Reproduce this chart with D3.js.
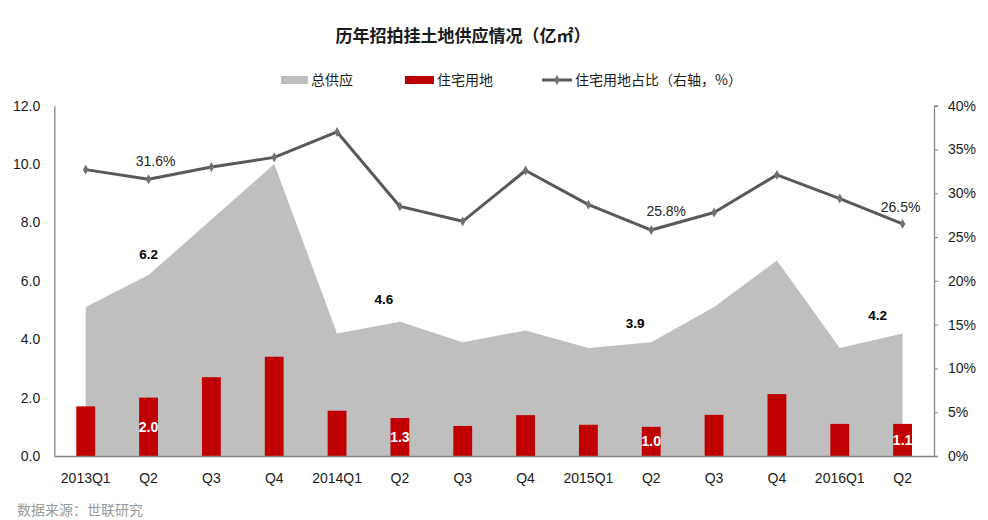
<!DOCTYPE html>
<html><head><meta charset="utf-8">
<script src="https://cdn.jsdelivr.net/npm/d3@7"></script>
<style>
html,body{margin:0;padding:0;background:#fff;}
svg{display:block;}
</style>
</head><body>
<svg id="chart" width="988" height="520"></svg>
<script>
// ---- data ----
const categories = ["2013Q1","2013Q2","2013Q3","2013Q4","2014Q1","2014Q2","2014Q3","2014Q4","2015Q1","2015Q2","2015Q3","2015Q4","2016Q1","2016Q2"];
const tickLabels = ["2013Q1","Q2","Q3","Q4","2014Q1","Q2","Q3","Q4","2015Q1","Q2","Q3","Q4","2016Q1","Q2"];
const totalSupply = [5.1, 6.2, 8.1, 10.0, 4.2, 4.6, 3.9, 4.3, 3.7, 3.9, 5.1, 6.7, 3.7, 4.2];
const residential = [1.7, 2.0, 2.7, 3.4, 1.55, 1.3, 1.03, 1.4, 1.07, 1.0, 1.41, 2.12, 1.1, 1.1];
const ratio = [32.7, 31.6, 33.0, 34.1, 37.0, 28.5, 26.8, 32.6, 28.7, 25.8, 27.8, 32.1, 29.4, 26.5];
const leftTicks = [0, 2, 4, 6, 8, 10, 12];
const rightTicks = [0, 5, 10, 15, 20, 25, 30, 35, 40];
const labeledIdx = [1, 5, 9, 13];
const pctLabeledIdx = [1, 9, 13];
const title = "历年招拍挂土地供应情况（亿㎡）";
const legendNames = ["总供应", "住宅用地", "住宅用地占比（右轴，%）"];
const source = "数据来源：世联研究";

// ---- layout ----
const svg = d3.select("#chart");
const plotL = 54.3, plotR = 934, plotT = 105.7, plotB = 456;
const cjk = "'Noto Sans CJK SC','Noto Sans',sans-serif";
const num = "'Liberation Sans',Arial,sans-serif";
const gray = "#bfbfbf", red = "#c00000", lineCol = "#595959", axisCol = "#868686";

const x = d3.scaleBand().domain(categories).range([plotL, plotR]).padding(0);
const cx = d => x(d) + x.bandwidth() / 2;
const yL = d3.scaleLinear().domain([0, 12]).range([plotB, plotT]);
const yR = d3.scaleLinear().domain([0, 40]).range([plotB, plotT]);

// area
const area = d3.area().x((d, i) => cx(categories[i])).y0(plotB).y1(d => yL(d));
svg.append("path").datum(totalSupply).attr("d", area).attr("fill", gray);

// bars
const bw = x.bandwidth() * 0.3;
svg.append("g").selectAll("rect").data(residential).join("rect")
  .attr("x", (d, i) => cx(categories[i]) - bw / 2)
  .attr("width", bw)
  .attr("y", d => yL(d))
  .attr("height", d => plotB - yL(d))
  .attr("fill", red);

// line
const line = d3.line().x((d, i) => cx(categories[i])).y(d => yR(d));
svg.append("path").datum(ratio).attr("d", line)
  .attr("fill", "none").attr("stroke", lineCol).attr("stroke-width", 3).attr("stroke-linejoin", "round");
const diamond = d3.symbol().type(d3.symbolDiamond).size(28);
svg.append("g").selectAll("path").data(ratio).join("path")
  .attr("d", diamond)
  .attr("transform", (d, i) => `translate(${cx(categories[i])},${yR(d)})`)
  .attr("fill", "#707070");

// axes
const axL = svg.append("g").attr("transform", `translate(${plotL},0)`)
  .call(d3.axisLeft(yL).tickValues(leftTicks).tickSize(0).tickPadding(14).tickFormat(d3.format(".1f")));
const axR = svg.append("g").attr("transform", `translate(${plotR},0)`)
  .call(d3.axisRight(yR).tickValues(rightTicks).tickSize(4).tickPadding(10).tickFormat(d => d + "%"));
const axB = svg.append("g").attr("transform", `translate(0,${plotB})`)
  .call(d3.axisBottom(x).tickSize(0).tickPadding(17).tickFormat((d, i) => tickLabels[i]));
[axL, axR, axB].forEach(g => {
  g.select(".domain").attr("stroke", axisCol).attr("stroke-width", 1.3);
  g.selectAll(".tick line").attr("stroke", axisCol);
  g.selectAll("text").attr("font-family", num).attr("font-size", 14).attr("fill", "#1a1a1a");
});

// data labels: total supply
const totalOffsets = {1: [0, -16], 5: [-16, -18], 9: [-16, -14], 13: [-25, -13]};
svg.append("g").selectAll("text").data(labeledIdx).join("text")
  .attr("x", i => cx(categories[i]) + totalOffsets[i][0])
  .attr("y", i => yL(totalSupply[i]) + totalOffsets[i][1])
  .attr("text-anchor", "middle").attr("font-family", num).attr("font-weight", "bold")
  .attr("font-size", 13.5).attr("fill", "#000")
  .text(i => totalSupply[i].toFixed(1));

// data labels: residential (white, inside bar)
svg.append("g").selectAll("text").data(labeledIdx).join("text")
  .attr("x", i => cx(categories[i]))
  .attr("y", i => (yL(residential[i]) + plotB) / 2 + 5)
  .attr("text-anchor", "middle").attr("font-family", num).attr("font-weight", "bold")
  .attr("font-size", 14).attr("fill", "#fff")
  .text(i => residential[i].toFixed(1));

// data labels: ratio
const pctOffsets = {1: [7, -13], 9: [15, -14], 13: [-2, -12]};
svg.append("g").selectAll("text").data(pctLabeledIdx).join("text")
  .attr("x", i => cx(categories[i]) + pctOffsets[i][0])
  .attr("y", i => yR(ratio[i]) + pctOffsets[i][1])
  .attr("text-anchor", "middle").attr("font-family", num)
  .attr("font-size", 14).attr("fill", "#262626")
  .text(i => ratio[i].toFixed(1) + "%");

// title
svg.append("text").attr("x", 463).attr("y", 42).attr("text-anchor", "middle")
  .attr("font-family", cjk).attr("font-weight", "bold").attr("font-size", 17).attr("fill", "#1a1a1a")
  .text(title);

// legend
const lg = svg.append("g");
lg.append("rect").attr("x", 281).attr("y", 76).attr("width", 27).attr("height", 8).attr("fill", gray);
lg.append("rect").attr("x", 405).attr("y", 76).attr("width", 29).attr("height", 8).attr("fill", red);
lg.append("line").attr("x1", 542).attr("x2", 572).attr("y1", 80).attr("y2", 80)
  .attr("stroke", lineCol).attr("stroke-width", 3);
lg.append("path").attr("d", diamond).attr("transform", "translate(557,80)").attr("fill", "#707070");
const legendX = [311, 437, 575];
lg.selectAll("text").data(legendNames).join("text")
  .attr("x", (d, i) => legendX[i]).attr("y", 85)
  .attr("font-family", cjk).attr("font-size", 14).attr("fill", "#1a1a1a")
  .text(d => d);

// source
svg.append("text").attr("x", 17).attr("y", 515)
  .attr("font-family", cjk).attr("font-size", 14).attr("fill", "#9a9a9a")
  .text(source);
</script>
</body></html>
